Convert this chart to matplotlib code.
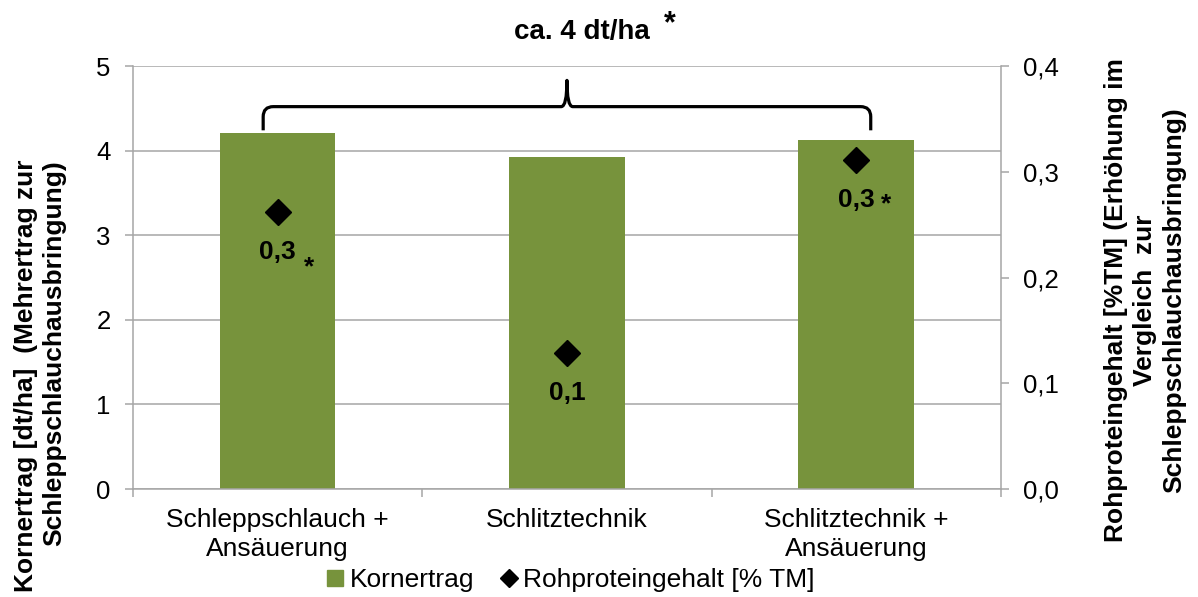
import matplotlib
matplotlib.use("Agg")
import matplotlib.pyplot as plt
from matplotlib.path import Path
from matplotlib.patches import PathPatch
from matplotlib.lines import Line2D
from matplotlib.ticker import FuncFormatter, FixedLocator

plt.rcParams['font.family'] = ['Liberation Sans', 'DejaVu Sans']

# data
categories = ['Schleppschlauch +\nAnsäuerung', 'Schlitztechnik', 'Schlitztechnik +\nAnsäuerung']
kornertrag = [4.21, 3.93, 4.12]          # dt/ha, left axis
rohprotein = [0.262, 0.129, 0.311]       # % TM, right axis
protein_labels = ['0,3', '0,1', '0,3']
protein_stars = ['*', '', '*']
brace_text = 'ca. 4 dt/ha'

green = '#77933C'
grey = '#A6A6A6'

fig = plt.figure(figsize=(11.98, 5.97), dpi=100)
ax = fig.add_axes([0.1110, 0.1809, 0.7245, 0.7085])
x = list(range(len(categories)))

ax.bar(x, kornertrag, width=0.4, color=green, zorder=2)
ax.set_xlim(-0.5, len(categories) - 0.5)
ax.set_ylim(0, 5)
ax.set_yticks(range(0, 6))
ax.yaxis.grid(True, color=grey, lw=1.1, zorder=0)
ax.set_axisbelow(True)
ax.tick_params(axis='y', labelsize=18.5, length=6, width=1.1, color=grey, pad=10)
ax.set_xticks(x)
ax.set_xticklabels(categories, fontsize=19, linespacing=1.25)
ax.tick_params(axis='x', length=0, pad=14)
ax.xaxis.set_minor_locator(FixedLocator([i - 0.5 for i in range(len(categories) + 1)]))
ax.tick_params(axis='x', which='minor', length=6, width=1.1, color=grey)
for s in ['top', 'right']:
    ax.spines[s].set_visible(False)
for s in ['left', 'bottom']:
    ax.spines[s].set_color(grey)
    ax.spines[s].set_linewidth(1.1)

# brace over the bars
xl = x[0] - 0.05
xr = x[-1] + 0.05
xm = (xl + xr) / 2
y0 = max(kornertrag) + 0.03
yb = 4.52
yt = 4.83
rx, ry = 0.035, 0.12
verts = [(xl, y0), (xl, yb - ry), (xl, yb), (xl + rx, yb),
         (xm - 0.02, yb), (xm, yb), (xm, yt),
         (xm, yb), (xm + 0.02, yb),
         (xr - rx, yb), (xr, yb), (xr, yb - ry), (xr, y0)]
codes = [Path.MOVETO, Path.LINETO, Path.CURVE3, Path.CURVE3,
         Path.LINETO, Path.CURVE3, Path.CURVE3,
         Path.CURVE3, Path.CURVE3,
         Path.LINETO, Path.CURVE3, Path.CURVE3, Path.LINETO]
ax.add_patch(PathPatch(Path(verts, codes), fill=False, lw=2.3, color='black', zorder=5,
                       capstyle='butt', joinstyle='round'))

# right axis
ax2 = ax.twinx()
ax2.set_ylim(0, 0.4)
ax2.set_yticks([0, 0.1, 0.2, 0.3, 0.4])
ax2.yaxis.set_major_formatter(FuncFormatter(lambda v, p: f'{v:.1f}'.replace('.', ',')))
ax2.tick_params(axis='y', labelsize=18.5, length=6, width=1.1, color=grey, pad=10)
for s in ['top', 'left', 'bottom']:
    ax2.spines[s].set_visible(False)
ax2.spines['right'].set_color(grey)
ax2.spines['right'].set_linewidth(1.1)

ax2.plot(x, rohprotein, ls='none', marker='D', ms=13, color='black', zorder=6)
for i, (v, lab, st) in enumerate(zip(rohprotein, protein_labels, protein_stars)):
    ax2.annotate(lab, (i, v), xytext=(0, -40), textcoords='offset pixels',
                 ha='center', va='center', fontsize=19, fontweight='bold')
    if st:
        dx, dy = (31, -55) if i == 0 else (30, -44)
        ax2.annotate(st, (i, v), xytext=(dx, dy), textcoords='offset pixels',
                     ha='center', va='center', fontsize=19, fontweight='bold')

# titles / axis labels
fig.text(582 / 1198, 1 - 32 / 597, brace_text, ha='center', va='center',
         fontsize=20, fontweight='bold')
fig.text(670 / 1198, 1 - 24 / 597, '*', ha='center', va='center',
         fontsize=22, fontweight='bold')
fig.text(40 / 1198, 1 - 376 / 597, 'Kornertrag [dt/ha]  (Mehrertrag zur\nSchleppschlauchausbringung)',
         rotation=90, ha='center', va='center', multialignment='right',
         fontsize=19, fontweight='bold', linespacing=1.2)
fig.text(1145 / 1198, 1 - 300 / 597,
         'Rohproteingehalt [%TM] (Erhöhung im\nVergleich  zur\nSchleppschlauchausbringung)',
         rotation=90, ha='center', va='center', multialignment='center',
         fontsize=19, fontweight='bold', linespacing=1.25)

handles = [Line2D([], [], ls='none', marker='s', ms=11, color=green),
           Line2D([], [], ls='none', marker='D', ms=9, color='black')]
fig.legend(handles, ['Kornertrag', 'Rohproteingehalt [% TM]'], loc='center',
           bbox_to_anchor=(571 / 1198, 1 - 580 / 597), ncol=2, frameon=False,
           fontsize=19, handlelength=0.6, handletextpad=0.25, columnspacing=1.0,
           borderpad=0, borderaxespad=0)

fig.savefig('out.png', dpi=100)
